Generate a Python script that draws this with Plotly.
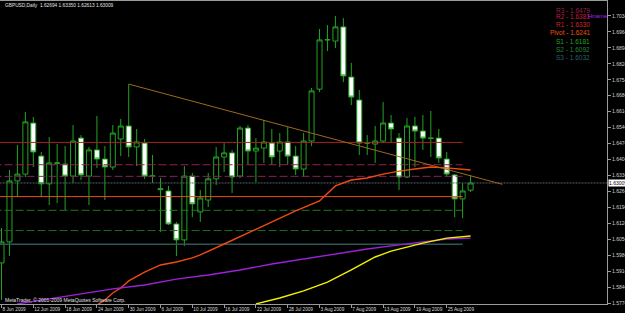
import plotly.graph_objects as go

# ---------------- data ----------------
dates = [
    "8 Jun 2009", "9 Jun 2009", "10 Jun 2009", "11 Jun 2009", "12 Jun 2009",
    "15 Jun 2009", "16 Jun 2009", "17 Jun 2009", "18 Jun 2009", "19 Jun 2009",
    "22 Jun 2009", "23 Jun 2009", "24 Jun 2009", "25 Jun 2009", "26 Jun 2009",
    "29 Jun 2009", "30 Jun 2009",
    "1 Jul 2009", "2 Jul 2009", "3 Jul 2009", "6 Jul 2009", "7 Jul 2009",
    "8 Jul 2009", "9 Jul 2009", "10 Jul 2009", "13 Jul 2009", "14 Jul 2009",
    "15 Jul 2009", "16 Jul 2009", "17 Jul 2009", "20 Jul 2009", "21 Jul 2009",
    "22 Jul 2009", "23 Jul 2009", "24 Jul 2009", "27 Jul 2009", "28 Jul 2009",
    "29 Jul 2009", "30 Jul 2009", "31 Jul 2009",
    "3 Aug 2009", "4 Aug 2009", "5 Aug 2009", "6 Aug 2009", "7 Aug 2009",
    "10 Aug 2009", "11 Aug 2009", "12 Aug 2009", "13 Aug 2009", "14 Aug 2009",
    "17 Aug 2009", "18 Aug 2009", "19 Aug 2009", "20 Aug 2009", "21 Aug 2009",
    "24 Aug 2009", "25 Aug 2009", "26 Aug 2009", "27 Aug 2009", "28 Aug 2009",
]

open_ = [1.5950, 1.6042, 1.6310, 1.6340, 1.6564, 1.6419, 1.6297, 1.6389, 1.6384, 1.6331,
         1.6498, 1.6331, 1.6446, 1.6406, 1.6371, 1.6494, 1.6551, 1.6459, 1.6476, 1.6332,
         1.6276, 1.6266, 1.6121, 1.6051, 1.6331, 1.6174, 1.6226, 1.6319, 1.6415, 1.6433,
         1.6331, 1.6542, 1.6441, 1.6454, 1.6476, 1.6441, 1.6481, 1.6419, 1.6362, 1.6485,
         1.6713, 1.6929, 1.6924, 1.6986, 1.6766, 1.6665, 1.6476, 1.6472, 1.6485, 1.6564,
         1.6498, 1.6327, 1.6551, 1.6529, 1.6498, 1.6498, 1.6406, 1.6336, 1.6231, 1.62694]
high = [1.6103, 1.6358, 1.6468, 1.6613, 1.6591, 1.6437, 1.6502, 1.6472, 1.6463, 1.6555,
        1.6511, 1.6459, 1.6595, 1.6463, 1.6555, 1.6582, 1.6735, 1.6538, 1.6494, 1.6424,
        1.6323, 1.6288, 1.6130, 1.6375, 1.6345, 1.6270, 1.6345, 1.6459, 1.6476, 1.6446,
        1.6551, 1.6555, 1.6498, 1.6578, 1.6538, 1.6520, 1.6546, 1.6463, 1.6520, 1.6718,
        1.6977, 1.6994, 1.7034, 1.7025, 1.6828, 1.6709, 1.6511, 1.6551, 1.6656, 1.6599,
        1.6520, 1.6586, 1.6591, 1.6599, 1.6617, 1.6538, 1.6437, 1.6340, 1.6301, 1.63350]
low = [1.5787, 1.5980, 1.6239, 1.6327, 1.6371, 1.6239, 1.6204, 1.6213, 1.6182, 1.6301,
       1.6314, 1.6204, 1.6367, 1.6226, 1.6358, 1.6419, 1.6415, 1.6375, 1.6319, 1.6301,
       1.6086, 1.6116, 1.5980, 1.6024, 1.6151, 1.6130, 1.6195, 1.6292, 1.6349, 1.6257,
       1.6323, 1.6380, 1.6305, 1.6389, 1.6380, 1.6371, 1.6380, 1.6336, 1.6331, 1.6463,
       1.6700, 1.6880, 1.6893, 1.6744, 1.6643, 1.6424, 1.6424, 1.6389, 1.6476, 1.6476,
       1.6270, 1.6323, 1.6371, 1.6446, 1.6415, 1.6389, 1.6327, 1.6151, 1.6147, 1.62613]
close = [1.6042, 1.6310, 1.6340, 1.6569, 1.6437, 1.6297, 1.6389, 1.6388, 1.6331, 1.6485,
         1.6336, 1.6446, 1.6406, 1.6371, 1.6520, 1.6551, 1.6459, 1.6481, 1.6331, 1.6331,
         1.6272, 1.6121, 1.6051, 1.6331, 1.6209, 1.6235, 1.6319, 1.6415, 1.6433, 1.6327,
         1.6542, 1.6441, 1.6454, 1.6481, 1.6415, 1.6481, 1.6419, 1.6362, 1.6485, 1.6705,
         1.6929, 1.6930, 1.6986, 1.6771, 1.6678, 1.6476, 1.6477, 1.6485, 1.6564, 1.6538,
         1.6327, 1.6551, 1.6529, 1.6498, 1.6497, 1.6411, 1.6340, 1.6231, 1.6266, 1.63009]

# moving averages (bar index, value)
red_ma_idx = [12, 13, 14, 15, 16, 18, 20, 22, 24, 25, 28, 31, 34, 37, 40, 42, 44, 46, 48, 50, 52, 54, 56, 58, 59]
red_ma_val = [1.5765, 1.5787, 1.5818, 1.5840, 1.5871, 1.5910, 1.5941, 1.5954, 1.5972, 1.5985,
              1.6033, 1.6081, 1.6130, 1.6178, 1.6222, 1.6288, 1.6314, 1.6323, 1.6340, 1.6353,
              1.6362, 1.6371, 1.6367, 1.6362, 1.6358]
purple_ma_idx = [2, 6, 10, 14, 18, 22, 26, 30, 34, 38, 42, 46, 50, 53, 56, 59]
purple_ma_val = [1.5770, 1.5792, 1.5814, 1.5836, 1.5853, 1.5879, 1.5897, 1.5919, 1.5945,
                 1.5967, 1.5989, 1.6011, 1.6029, 1.6042, 1.6055, 1.6059]
yellow_ma_idx = [32, 35, 38, 41, 44, 47, 49, 51, 53, 56, 59]
yellow_ma_val = [1.5770, 1.5796, 1.5827, 1.5866, 1.5919, 1.5976, 1.6002, 1.6020, 1.6037, 1.6059, 1.6068]

# trend line
trend_idx = [16, 63]
trend_val = [1.6735, 1.6295]

# pivot levels
pivot_names = ["R3", "R2", "R1", "Pivot", "S1", "S2", "S3"]
pivot_vals = [1.6479, 1.6381, 1.6330, 1.6241, 1.6181, 1.6092, 1.6032]

# axis ticks
x_tick_idx = [0, 4, 8, 12, 16, 20, 24, 28, 32, 36, 40, 44, 48, 52, 56]
x_tick_labels = ["8 Jun 2009", "12 Jun 2009", "18 Jun 2009", "24 Jun 2009", "30 Jun 2009",
                 "6 Jul 2009", "10 Jul 2009", "16 Jul 2009", "22 Jul 2009", "28 Jul 2009",
                 "3 Aug 2009", "7 Aug 2009", "13 Aug 2009", "19 Aug 2009", "25 Aug 2009"]
y_tick_vals = [1.5774, 1.5844, 1.5914, 1.5984, 1.6054, 1.6124, 1.6194, 1.6264, 1.6334, 1.6404,
               1.6474, 1.6544, 1.6614, 1.6684, 1.6754, 1.6824, 1.6894, 1.6964, 1.7034]
y_tick_labels = ["%.5f" % v for v in y_tick_vals]

title_text = "GBPUSD,Daily  1.62694 1.63350 1.62613 1.63009"

# ---------------- figure ----------------
W, H = 625, 313
ML, MR, MT, MB = 0, 18, 1, 9
PW, PH = W - ML - MR, H - MT - MB


def pxx(px):
    return (px - ML) / PW


def pxy(py):
    return 1 - (py - MT) / PH


x_idx = list(range(len(dates)))
fig = go.Figure()

pivot_styles = {
    "R3": ("#A82222", "solid", 1),
    "R2": ("#902052", "8px,3px", 1),
    "R1": ("#842062", "8px,3px", 1),
    "Pivot": ("#E8501E", "solid", 1),
    "S1": ("#1E7A1E", "8px,3px", 1),
    "S2": ("#1E6E1E", "8px,3px", 1),
    "S3": ("#2F5656", "solid", 1.5),
}
line_start, line_end = -1, 58
for name, val in zip(pivot_names, pivot_vals):
    c, d, w = pivot_styles[name]
    fig.add_trace(go.Scatter(x=[line_start, line_end], y=[val, val], mode="lines",
                             line=dict(color=c, dash=d, width=w), hoverinfo="skip"))

# current price line
fig.add_trace(go.Scatter(x=[-1, 80], y=[close[-1], close[-1]], mode="lines",
                         line=dict(color="#56626C", dash="2px,1px", width=1), hoverinfo="skip"))

fig.add_trace(go.Candlestick(
    x=x_idx, open=open_, high=high, low=low, close=close,
    increasing=dict(line=dict(color="#22A422", width=1), fillcolor="#000000"),
    decreasing=dict(line=dict(color="#22A422", width=1), fillcolor="#FFFFFF"),
    whiskerwidth=0,
))

fig.add_trace(go.Scatter(x=red_ma_idx, y=red_ma_val, mode="lines",
                         line=dict(color="#F04A14", width=1.4), hoverinfo="skip"))
fig.add_trace(go.Scatter(x=purple_ma_idx, y=purple_ma_val, mode="lines",
                         line=dict(color="#9B22D8", width=1.4), hoverinfo="skip"))
fig.add_trace(go.Scatter(x=yellow_ma_idx, y=yellow_ma_val, mode="lines",
                         line=dict(color="#F2F200", width=1.4), hoverinfo="skip"))
fig.add_trace(go.Scatter(x=trend_idx, y=trend_val, mode="lines",
                         line=dict(color="#9E6A1A", width=1), hoverinfo="skip"))

axis_col = "#9A9A9A"
fig.update_layout(
    width=W, height=H,
    margin=dict(l=ML, r=MR, t=MT, b=MB, autoexpand=False),
    paper_bgcolor="#000000", plot_bgcolor="#000000",
    showlegend=False,
    boxgap=0.3, boxgroupgap=0.1,
    font=dict(family="Liberation Sans", size=5, color="#D8D8D8"),
    xaxis=dict(range=[-0.19, 76.16], tickmode="array", tickvals=x_tick_idx, ticktext=x_tick_labels,
               ticks="outside", ticklen=3, tickcolor=axis_col, showline=True, linecolor=axis_col,
               linewidth=1, mirror=True, showgrid=False, zeroline=False, automargin=False,
               tickangle=0, rangeslider=dict(visible=False), ticklabelposition="outside right",
               tickfont=dict(size=4.7, color="#D8D8D8")),
    yaxis=dict(range=[1.57696, 1.70998], side="right", tickmode="array", tickvals=y_tick_vals,
               ticktext=y_tick_labels, ticks="outside", ticklen=3, tickcolor=axis_col,
               showline=True, linecolor=axis_col, linewidth=1, mirror=True, showgrid=False,
               zeroline=False, automargin=False, tickfont=dict(size=5, color="#D0D0D0")),
)

annotations = [
    dict(text=title_text, xref="paper", yref="paper", x=pxx(3), y=pxy(5),
         xanchor="left", yanchor="middle", showarrow=False,
         font=dict(size=4.8, color="#E0E0E0")),
    dict(text="MetaTrader, \u00a9 2001-2009 MetaQuotes Software Corp.", xref="paper", yref="paper",
         x=pxx(3), y=pxy(300), xanchor="left", yanchor="middle", showarrow=False,
         font=dict(size=5, color="#E0E0E0")),
    dict(text="%.5f" % close[-1], xref="paper", yref="y", x=1, y=close[-1], xanchor="left",
         yanchor="middle", xshift=1, showarrow=False, bgcolor="#FFFFFF", borderpad=0,
         font=dict(size=5, color="#000000")),
]
legend_cols = {"R3": "#9E1E46", "R2": "#C8203C", "R1": "#D42424", "Pivot": "#E8560F",
               "S1": "#24A024", "S2": "#23883A", "S3": "#236464"}
legend_y = [10, 17, 25, 33, 41, 49, 57]
for name, val, ly in zip(pivot_names, pivot_vals, legend_y):
    annotations.append(dict(text="%s - %.4f" % (name, val), xref="paper", yref="paper",
                            x=pxx(592), y=pxy(ly), xanchor="right", yanchor="middle",
                            showarrow=False, font=dict(size=6.5, color=legend_cols[name])))
annotations.append(dict(text="Hname", xref="paper", yref="paper", x=pxx(586), y=pxy(16),
                        xanchor="left", yanchor="middle", showarrow=False,
                        font=dict(size=6, color="#A424F0")))
fig.update_layout(annotations=annotations)

fig.write_html("out.html")
